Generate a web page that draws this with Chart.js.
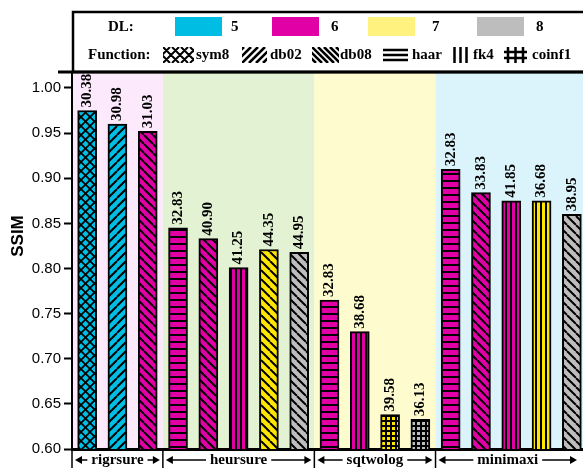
<!DOCTYPE html>
<html>
<head>
<meta charset="utf-8">
<script src="https://cdn.jsdelivr.net/npm/chart.js@4.4.0/dist/chart.umd.min.js"></script>
<style>
  html, body { margin: 0; padding: 0; background: #fff; overflow: hidden; }
  #wrap { width: 587px; height: 468px; }
</style>
</head>
<body>
<div id="wrap"><canvas id="chart"></canvas></div>
<script>
// data
const groups = ['rigrsure', 'heursure', 'sqtwolog', 'minimaxi'];
const groupSizes = [3, 5, 4, 5];
const categories = [
  'rigrsure sym8 DL5', 'rigrsure db02 DL5', 'rigrsure db08 DL6',
  'heursure haar DL6', 'heursure db08 DL6', 'heursure fk4 DL6', 'heursure db08 DL7', 'heursure db08 DL8',
  'sqtwolog haar DL6', 'sqtwolog fk4 DL6', 'sqtwolog coinf1 DL7', 'sqtwolog coinf1 DL8',
  'minimaxi haar DL6', 'minimaxi db08 DL6', 'minimaxi fk4 DL6', 'minimaxi fk4 DL7', 'minimaxi db08 DL8'
];
const ssimValues = [0.975, 0.960, 0.952, 0.845, 0.833, 0.801, 0.821, 0.818, 0.765, 0.730, 0.638, 0.633, 0.910, 0.884, 0.875, 0.875, 0.860];
const psnrLabels = ['30.38', '30.98', '31.03', '32.83', '40.90', '41.25', '44.35', '44.95', '32.83', '38.68', '39.58', '36.13', '32.83', '33.83', '41.85', '36.68', '38.95'];
const dlLevels = [5, 5, 6, 6, 6, 6, 7, 8, 6, 6, 7, 8, 6, 6, 6, 7, 8];
const functions = ['sym8', 'db02', 'db08', 'haar', 'db08', 'fk4', 'db08', 'db08', 'haar', 'fk4', 'coinf1', 'coinf1', 'haar', 'db08', 'fk4', 'fk4', 'db08'];
const ssimTicks = [0.60, 0.65, 0.70, 0.75, 0.80, 0.85, 0.90, 0.95, 1.00];
const dlNames = [5, 6, 7, 8];
const functionNames = ['sym8', 'db02', 'db08', 'haar', 'fk4', 'coinf1'];

const dlColors = { 5: '#00BDE3', 6: '#E000A6', 7: '#FFE600', 8: '#BDBDBD' };
const dlLegendColors = { 5: '#00BDE3', 6: '#E000A6', 7: '#FFF27F', 8: '#BDBDBD' };
const bandColors = ['#FCE9FB', '#E2F2D2', '#FEFBCF', '#DBF3FA'];
const serif = '"Liberation Serif", "Times New Roman", serif';

const ctx = document.getElementById('chart').getContext('2d');

function makePattern(color, fn) {
  const size = { sym8: 9, db02: 9, db08: 9, haar: 7, fk4: 5, coinf1: 5 }[fn];
  const c = document.createElement('canvas');
  c.width = size; c.height = size;
  const g = c.getContext('2d');
  g.fillStyle = color;
  g.fillRect(0, 0, size, size);
  g.strokeStyle = '#000';
  g.fillStyle = '#000';
  g.lineWidth = fn === 'sym8' ? 1.7 : 2;
  if (fn === 'db08' || fn === 'sym8') {
    g.beginPath();
    for (let k = -1; k <= 1; k++) { g.moveTo(k * size, 0); g.lineTo(k * size + size, size); }
    g.stroke();
  }
  if (fn === 'db02' || fn === 'sym8') {
    g.beginPath();
    for (let k = -1; k <= 1; k++) { g.moveTo(k * size, size); g.lineTo(k * size + size, 0); }
    g.stroke();
  }
  if (fn === 'haar') g.fillRect(0, size - 2, size, 2);
  if (fn === 'fk4') g.fillRect(0, 0, 2, size);
  if (fn === 'coinf1') { g.fillRect(0, 0, size, 2); g.fillRect(0, 0, 2, size); }
  return ctx.createPattern(c, 'repeat');
}

const barFills = ssimValues.map((v, i) => makePattern(dlColors[dlLevels[i]], functions[i]));

const backgroundBands = {
  id: 'backgroundBands',
  beforeDraw(chart) {
    const { ctx, chartArea, scales } = chart;
    const slot = (chartArea.right - chartArea.left) / categories.length;
    let start = 0;
    groups.forEach((g, gi) => {
      const x0 = scales.x.getPixelForValue(start) - slot / 2;
      const x1 = gi === groups.length - 1 ? chartArea.right : scales.x.getPixelForValue(start + groupSizes[gi] - 1) + slot / 2;
      ctx.fillStyle = bandColors[gi];
      ctx.fillRect(x0, chartArea.top, x1 - x0, chartArea.bottom - chartArea.top);
      start += groupSizes[gi];
    });
  }
};

const barLabels = {
  id: 'barLabels',
  afterDatasetsDraw(chart) {
    const { ctx } = chart;
    const meta = chart.getDatasetMeta(0);
    ctx.save();
    ctx.font = 'bold 15px ' + serif;
    ctx.fillStyle = '#000';
    ctx.textAlign = 'left';
    ctx.textBaseline = 'middle';
    meta.data.forEach((bar, i) => {
      ctx.save();
      ctx.translate(bar.x, bar.y - 3);
      ctx.rotate(-Math.PI / 2);
      ctx.fillText(psnrLabels[i], 0, 0);
      ctx.restore();
    });
    ctx.restore();
  }
};

function drawArrow(ctx, xFrom, xTo, y) {
  const dir = xTo > xFrom ? 1 : -1;
  ctx.beginPath();
  ctx.moveTo(xFrom, y);
  ctx.lineTo(xTo - dir * 5, y);
  ctx.stroke();
  ctx.beginPath();
  ctx.moveTo(xTo, y);
  ctx.lineTo(xTo - dir * 7, y - 4);
  ctx.lineTo(xTo - dir * 7, y + 4);
  ctx.closePath();
  ctx.fill();
}

const frameAndLegend = {
  id: 'frameAndLegend',
  afterDraw(chart) {
    const { ctx, chartArea, scales } = chart;
    ctx.save();
    ctx.strokeStyle = '#000';
    ctx.fillStyle = '#000';

    // legend box
    ctx.lineWidth = 2.5;
    ctx.strokeRect(73, 12, 600, chartArea.top - 12);
    ctx.lineWidth = 3;
    ctx.beginPath();
    ctx.moveTo(58, chartArea.top);
    ctx.lineTo(chart.width, chartArea.top);
    ctx.stroke();

    // DL row
    ctx.font = 'bold 15px ' + serif;
    ctx.textBaseline = 'middle';
    ctx.textAlign = 'left';
    ctx.fillText('DL:', 108, 27);
    const swatchX = [175, 272, 368, 477];
    const labelX = [231, 331, 432, 536];
    dlNames.forEach((d, i) => {
      ctx.fillStyle = dlLegendColors[d];
      ctx.fillRect(swatchX[i], 17, 47, 19);
      ctx.fillStyle = '#000';
      ctx.fillText(String(d), labelX[i], 27);
    });

    // Function row
    const fy = 55;
    ctx.fillText('Function:', 88, fy);
    const iconX = [163, 242, 312, 383, 453, 504];
    const iconW = [31, 25, 27, 25, 15, 23];
    const textX = [196, 270, 340, 412, 473, 532];
    functionNames.forEach((fn, i) => {
      const x0 = iconX[i], w = iconW[i], y0 = fy - 8, h = 16;
      ctx.save();
      ctx.beginPath();
      ctx.rect(x0, y0, w, h);
      ctx.clip();
      ctx.beginPath();
      if (fn === 'sym8') {
        ctx.lineWidth = 2;
        for (let k = -2; k < 5; k++) {
          ctx.moveTo(x0 + k * 9, y0); ctx.lineTo(x0 + k * 9 + h, y0 + h);
          ctx.moveTo(x0 + k * 9, y0 + h); ctx.lineTo(x0 + k * 9 + h, y0);
        }
      } else if (fn === 'db02') {
        ctx.lineWidth = 2.6;
        for (let k = -2; k < 4; k++) { ctx.moveTo(x0 + k * 7, y0 + h); ctx.lineTo(x0 + k * 7 + h, y0); }
      } else if (fn === 'db08') {
        ctx.lineWidth = 2.6;
        for (let k = -2; k < 5; k++) { ctx.moveTo(x0 + k * 6, y0); ctx.lineTo(x0 + k * 6 + h, y0 + h); }
      } else if (fn === 'haar') {
        ctx.lineWidth = 2.5;
        [3, 8, 13].forEach(dy => { ctx.moveTo(x0, y0 + dy); ctx.lineTo(x0 + w, y0 + dy); });
      } else if (fn === 'fk4') {
        ctx.lineWidth = 2.5;
        [1.5, 7.5, 13.5].forEach(dx => { ctx.moveTo(x0 + dx, y0); ctx.lineTo(x0 + dx, y0 + h); });
      } else if (fn === 'coinf1') {
        ctx.lineWidth = 2.5;
        [4, 11.5, 19].forEach(dx => { ctx.moveTo(x0 + dx, y0); ctx.lineTo(x0 + dx, y0 + h); });
        [5, 11].forEach(dy => { ctx.moveTo(x0, y0 + dy); ctx.lineTo(x0 + w, y0 + dy); });
      }
      ctx.stroke();
      ctx.restore();
      ctx.fillText(fn, textX[i], fy);
    });

    // y-axis title
    ctx.save();
    ctx.translate(18, 236);
    ctx.rotate(-Math.PI / 2);
    ctx.textAlign = 'center';
    ctx.font = 'bold 17px "Liberation Sans", Arial, sans-serif';
    ctx.fillText('SSIM', 0, 0);
    ctx.restore();

    // group labels under the x axis
    const slot = (chartArea.right - chartArea.left) / categories.length;
    const ty = chartArea.bottom + 11;
    ctx.font = 'bold 15px ' + serif;
    ctx.textAlign = 'center';
    ctx.lineWidth = 1.5;
    let start = 0;
    groups.forEach((g, gi) => {
      const x0 = scales.x.getPixelForValue(start) - slot / 2;
      const x1 = Math.min(scales.x.getPixelForValue(start + groupSizes[gi] - 1) + slot / 2, 580);
      ctx.beginPath();
      ctx.moveTo(x0, chartArea.bottom);
      ctx.lineTo(x0, chart.height);
      ctx.stroke();
      const mid = (x0 + x1) / 2;
      const tw = ctx.measureText(g).width;
      ctx.fillText(g, mid, ty);
      drawArrow(ctx, mid - tw / 2 - 4, x0 + 3, ty);
      drawArrow(ctx, mid + tw / 2 + 4, x1 - 3, ty);
      start += groupSizes[gi];
    });
    ctx.restore();
  }
};

new Chart(ctx, {
  type: 'bar',
  data: {
    labels: categories,
    datasets: [{
      label: 'SSIM',
      data: ssimValues,
      backgroundColor: barFills,
      borderColor: '#000',
      borderWidth: 2,
      borderSkipped: false,
      barThickness: 19
    }]
  },
  options: {
    responsive: true,
    maintainAspectRatio: false,
    animation: false,
    layout: { padding: { top: 72, bottom: 19, left: 0, right: 0 } },
    plugins: {
      legend: { display: false },
      tooltip: { enabled: false }
    },
    scales: {
      x: {
        ticks: { display: false },
        grid: { display: false },
        border: { display: true, color: '#000', width: 3 },
        afterFit(scale) { scale.height = 0; }
      },
      y: {
        min: 0.6,
        max: 1.0177,
        afterBuildTicks(axis) { axis.ticks = ssimTicks.map(v => ({ value: v })); },
        ticks: {
          color: '#000',
          padding: 3,
          font: { family: '"Liberation Sans", Arial, sans-serif', size: 15 },
          callback: v => Number(v).toFixed(2)
        },
        grid: { drawOnChartArea: false, drawTicks: true, tickLength: 8, tickColor: '#000', tickWidth: 2 },
        border: { display: true, color: '#000', width: 2 },
        afterFit(scale) { scale.width = 72; }
      }
    }
  },
  plugins: [backgroundBands, barLabels, frameAndLegend]
});
</script>
</body>
</html>
